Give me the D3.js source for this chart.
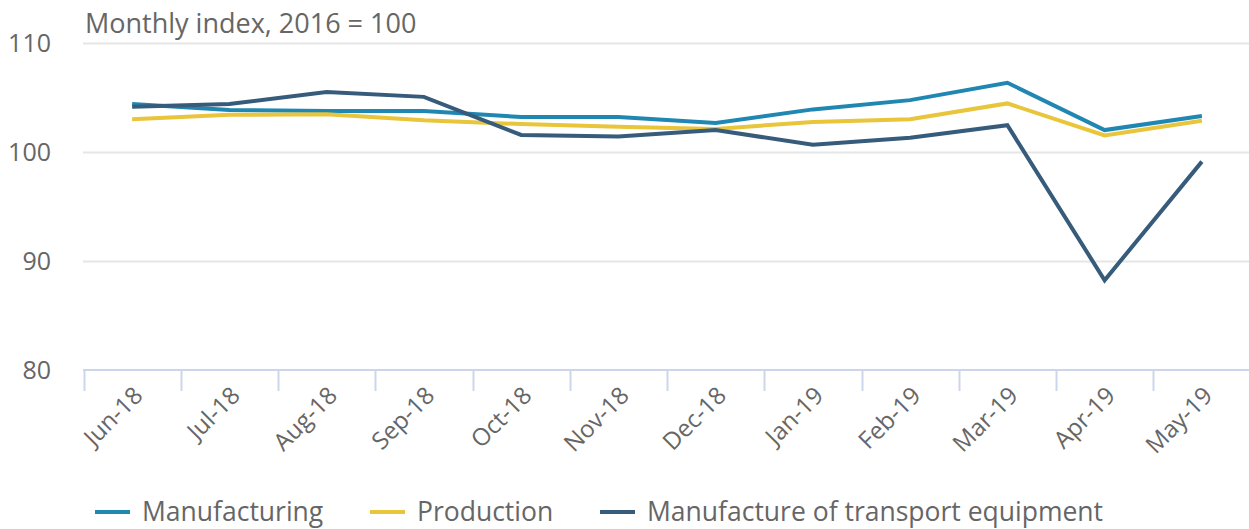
<!DOCTYPE html>
<html><head><meta charset="utf-8">
<script src="https://cdn.jsdelivr.net/npm/d3@7"></script>
<style>body{margin:0;background:#fff}svg{display:block;font-family:"Open Sans",sans-serif}</style>
</head><body><svg id="c" width="1249" height="529"></svg>
<script>
const categories = ["Jun-18","Jul-18","Aug-18","Sep-18","Oct-18","Nov-18","Dec-18","Jan-19","Feb-19","Mar-19","Apr-19","May-19"];
const manufacturing = [104.4,103.85,103.75,103.75,103.2,103.2,102.65,103.9,104.75,106.35,102.0,103.3];
const production = [103.0,103.4,103.45,102.9,102.55,102.3,102.1,102.75,103.0,104.45,101.5,102.85];
const transport = [104.15,104.4,105.5,105.05,101.55,101.4,102.0,100.65,101.3,102.45,88.2,99.1];
const yTicks = [80,90,100,110];
const seriesNames = ["Manufacturing","Production","Manufacture of transport equipment"];
const colors = ["#1f87b1","#e8c53a","#365b7b"];
const title = "Monthly index, 2016 = 100";

const svg = d3.select("#c");
const x = d3.scaleBand().domain(categories).range([83.5,1250.5]);
const y = d3.scaleLinear().domain([80,110]).range([369.5,43]);

// gridlines
svg.append("g").selectAll("line").data(yTicks.filter(d=>d>80)).join("line")
  .attr("x1",83).attr("x2",1249).attr("y1",d=>Math.round(y(d))+0.5).attr("y2",d=>Math.round(y(d))+0.5)
  .attr("stroke","#e6e6e6").attr("stroke-width",2);

// y labels
svg.append("g").selectAll("text").data(yTicks).join("text")
  .attr("x",51).attr("y",d=>y(d)+9).attr("text-anchor","end")
  .attr("fill","#666").attr("font-size",25).text(d=>d);

// x axis
const gx = svg.append("g").attr("transform",`translate(0,${Math.round(y(80))})`);
gx.append("line").attr("x1",83).attr("x2",1249).attr("y1",0).attr("y2",0).attr("stroke","#ccd6eb").attr("stroke-width",2);
const bounds = categories.map(c=>x(c));
gx.selectAll("line.t").data(bounds).join("line").attr("class","t")
  .attr("x1",d=>Math.round(d)+0.5).attr("x2",d=>Math.round(d)+0.5).attr("y1",0).attr("y2",21)
  .attr("stroke","#ccd6eb").attr("stroke-width",2);
gx.selectAll("text").data(categories).join("text")
  .attr("transform",d=>`translate(${x(d)+x.bandwidth()/2+12},${27}) rotate(-45)`)
  .attr("text-anchor","end").attr("fill","#666").attr("font-size",24).text(d=>d);

// lines
const line = d3.line().x((d,i)=>x(categories[i])+x.bandwidth()/2).y(d=>y(d));
[manufacturing,production,transport].forEach((s,i)=>{
  svg.append("path").datum(s).attr("d",line).attr("fill","none")
    .attr("stroke",colors[i]).attr("stroke-width",4).attr("stroke-linejoin","miter");
});

// title
svg.append("text").attr("x",85).attr("y",33).attr("fill","#666").attr("font-size",27).text(title);

// legend
const lx = [95,370,600];
seriesNames.forEach((n,i)=>{
  const g = svg.append("g").attr("transform",`translate(${lx[i]},512)`);
  g.append("line").attr("x1",0).attr("x2",35).attr("y1",0).attr("y2",0).attr("stroke",colors[i]).attr("stroke-width",4);
  g.append("text").attr("x",47).attr("y",9).attr("fill","#666").attr("font-size",26.5).text(n);
});
</script></body></html>
